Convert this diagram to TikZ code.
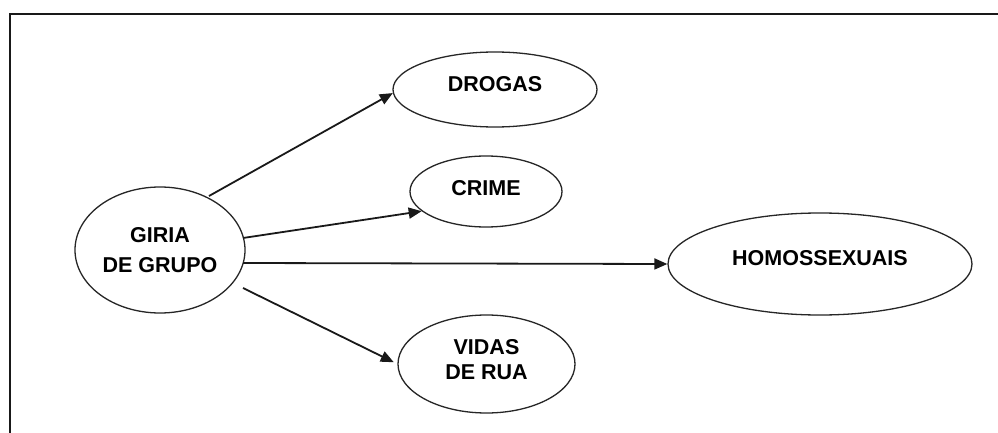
\documentclass[tikz,border=0pt]{standalone}
\usepackage{fontspec}
\setmainfont{Liberation Sans}
\usetikzlibrary{shapes.geometric,arrows.meta}
\newcommand{\upby}[2]{\raisebox{#1}[\height][\depth]{#2}}
\begin{document}
\begin{tikzpicture}[x=1pt,y=-1pt,
  bubble/.style={ellipse,draw=black!85,line width=1.3pt,inner sep=0pt,align=center,
    font=\fontsize{21.5}{25}\selectfont\bfseries},
  arr/.style={line width=1.8pt,draw=black!90,-{Triangle[length=13pt,width=11pt]}},
  frame/.style={line width=2pt,draw=black!90}]
\useasboundingbox (0,0) rectangle (998,433);
\fill[white] (0,0) rectangle (998,433);
\draw[frame] (998,14) -- (9.5,14) -- (9.5,433);
\node[bubble,minimum width=170pt,minimum height=126pt,font=\fontsize{21.5}{30}\selectfont\bfseries] (giria) at (160,250) {GIRIA\\DE GRUPO};
\node[bubble,minimum width=204pt,minimum height=75pt] (drogas) at (495,89.5) {\upby{5pt}{DROGAS}};
\node[bubble,minimum width=152pt,minimum height=71pt] (crime) at (486,191.5) {\upby{3pt}{CRIME}};
\node[bubble,minimum width=304pt,minimum height=102pt] (homo) at (820,264) {\upby{6pt}{HOMOSSEXUAIS}};
\node[bubble,minimum width=177pt,minimum height=98pt] (vidas) at (486.5,364) {\upby{4pt}{VIDAS}\\\upby{4pt}{DE RUA}};
\coordinate (s1) at (209,196);
\coordinate (s2) at (243,238);
\coordinate (s3) at (243,263);
\coordinate (s4) at (243,288);
\draw[arr] (s1) -- (drogas.182);
\draw[arr] (s2) -- (crime.197);
\draw[arr] (s3) -- (homo.west);
\draw[arr,shorten >=4pt] (s4) -- (vidas.west);
\end{tikzpicture}
\end{document}
